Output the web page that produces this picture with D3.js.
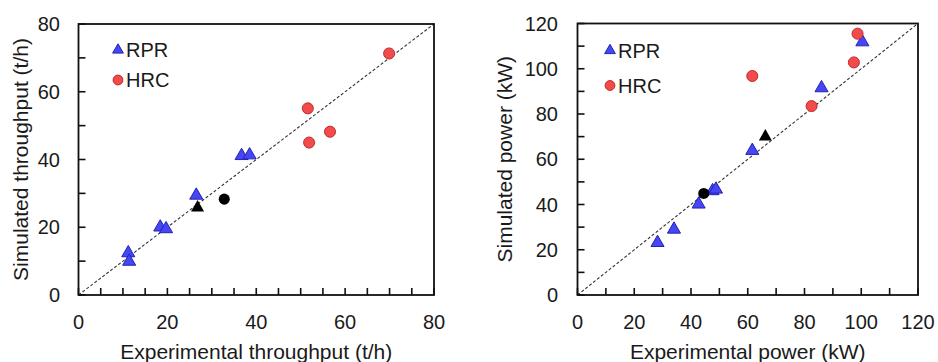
<!DOCTYPE html>
<html>
<head>
<meta charset="utf-8">
<script src="https://cdn.jsdelivr.net/npm/d3@7"></script>
<style>
  body { margin: 0; background: #fff; }
  text { font-family: "Liberation Sans", Arial, sans-serif; fill: #1a1a1a; }
</style>
</head>
<body>
<div id="plot"></div>
<script>
// throughput panel (t/h): [experimental, simulated]
const thrRPR = [[11.2, 12.4], [11.4, 9.9], [18.4, 20.0], [19.7, 19.5], [26.5, 29.4], [36.7, 41.1], [38.5, 41.3]];
const thrHRC = [[51.6, 55.1], [51.9, 45.0], [56.6, 48.2], [69.9, 71.3]];
const thrBlackTri = [[26.8, 25.8]];
const thrBlackCirc = [[32.8, 28.3]];

// power panel (kW)
const powRPR = [[28.2, 23.1], [34.0, 29.0], [42.7, 40.1], [47.6, 46.0], [48.8, 46.7], [61.6, 63.8], [86.0, 91.5], [100.4, 111.8]];
const powHRC = [[61.6, 96.8], [82.5, 83.5], [97.4, 102.8], [98.7, 115.5]];
const powBlackTri = [[66.2, 70.0]];
const powBlackCirc = [[44.5, 44.9]];

const seriesNames = ["RPR", "HRC"];

const svgWidth = 938;
const svgHeight = 362;

const svg = d3.select("div#plot")
  .append("svg")
  .attr("width", svgWidth)
  .attr("height", svgHeight);

const panels = [
  {
    x0: 78.5, x1: 434, y0: 295, y1: 24, max: 80, labelStep: 20, xMinor: 5, yMinor: 10,
    xTitle: "Experimental throughput (t/h)", yTitle: "Simulated throughput (t/h)",
    yTitleX: 28, yLabelGap: 18.5, legendX: 118, legendY: [50, 80],
    rpr: thrRPR, hrc: thrHRC, blackTri: thrBlackTri, blackCirc: thrBlackCirc
  },
  {
    x0: 577.5, x1: 918, y0: 295, y1: 23.5, max: 120, labelStep: 20, xMinor: 10, yMinor: 10,
    xTitle: "Experimental power (kW)", yTitle: "Simulated power (kW)",
    yTitleX: 512, yLabelGap: 19.5, legendX: 610, legendY: [50.5, 85.5],
    rpr: powRPR, hrc: powHRC, blackTri: powBlackTri, blackCirc: powBlackCirc
  }
];

const triBig = d3.symbol().type(d3.symbolTriangle).size(74);
const circBig = d3.symbol().type(d3.symbolCircle).size(96);
const triSmall = d3.symbol().type(d3.symbolTriangle).size(50);
const circSmall = d3.symbol().type(d3.symbolCircle).size(76);

const blueFill = "#4646f5", blueStroke = "#2323b4";
const redFill = "#f24b4b", redStroke = "#c22a2a";

panels.forEach((p) => {
  const x = d3.scaleLinear().domain([0, p.max]).range([p.x0, p.x1]);
  const y = d3.scaleLinear().domain([0, p.max]).range([p.y0, p.y1]);
  const g = svg.append("g");

  // tick labels
  const labels = d3.range(0, p.max + 0.1, p.labelStep);
  g.selectAll(".xl").data(labels).enter().append("text")
    .attr("x", (d) => x(d)).attr("y", p.y0 + 34)
    .attr("text-anchor", "middle").style("font-size", "20px").text((d) => d);
  g.selectAll(".yl").data(labels).enter().append("text")
    .attr("x", p.x0 - p.yLabelGap).attr("y", (d) => y(d) + 7)
    .attr("text-anchor", "end").style("font-size", "20px").text((d) => d);

  // diagonal 1:1 line
  g.append("line")
    .attr("x1", x(0)).attr("y1", y(0)).attr("x2", x(p.max)).attr("y2", y(p.max))
    .attr("stroke", "#333").attr("stroke-width", 1.1).attr("stroke-dasharray", "3,2");

  // frame
  g.append("rect")
    .attr("x", p.x0).attr("y", p.y1).attr("width", p.x1 - p.x0).attr("height", p.y0 - p.y1)
    .attr("fill", "none").attr("stroke", "#111").attr("stroke-width", 1.8);

  // inward minor ticks on bottom and left, as small rects
  const tickLen = 7;
  g.selectAll(".xt").data(d3.range(0, p.max + 0.1, p.xMinor)).enter().append("rect")
    .attr("x", (d) => x(d) - 0.8).attr("y", p.y0 - tickLen)
    .attr("width", 1.6).attr("height", tickLen)
    .attr("fill", "#111");
  g.selectAll(".yt").data(d3.range(0, p.max + 0.1, p.yMinor)).enter().append("rect")
    .attr("x", p.x0).attr("y", (d) => y(d) - 0.8)
    .attr("width", tickLen).attr("height", 1.6)
    .attr("fill", "#111");

  // points
  g.selectAll(".rpr").data(p.rpr).enter().append("path")
    .attr("d", triBig).attr("transform", (d) => `translate(${x(d[0])},${y(d[1])})`)
    .attr("fill", blueFill).attr("stroke", blueStroke).attr("stroke-width", 1);
  g.selectAll(".hrc").data(p.hrc).enter().append("path")
    .attr("d", circBig).attr("transform", (d) => `translate(${x(d[0])},${y(d[1])})`)
    .attr("fill", redFill).attr("stroke", redStroke).attr("stroke-width", 1);
  g.selectAll(".btri").data(p.blackTri).enter().append("path")
    .attr("d", triBig).attr("transform", (d) => `translate(${x(d[0])},${y(d[1])})`)
    .attr("fill", "#000");
  g.selectAll(".bcirc").data(p.blackCirc).enter().append("path")
    .attr("d", circBig).attr("transform", (d) => `translate(${x(d[0])},${y(d[1])})`)
    .attr("fill", "#000");

  // legend
  g.append("path").attr("d", triSmall)
    .attr("transform", `translate(${p.legendX},${p.legendY[0]})`)
    .attr("fill", blueFill).attr("stroke", blueStroke).attr("stroke-width", 1);
  g.append("path").attr("d", circSmall)
    .attr("transform", `translate(${p.legendX},${p.legendY[1]})`)
    .attr("fill", redFill).attr("stroke", redStroke).attr("stroke-width", 1);
  g.selectAll(".lg").data(seriesNames).enter().append("text")
    .attr("x", p.legendX + 8).attr("y", (d, i) => p.legendY[i] + 7)
    .style("font-size", "20px").text((d) => d);

  // axis titles
  g.append("text")
    .attr("x", (p.x0 + p.x1) / 2).attr("y", 359)
    .attr("text-anchor", "middle").style("font-size", "21px").text(p.xTitle);
  g.append("text")
    .attr("transform", `translate(${p.yTitleX},${(p.y0 + p.y1) / 2}) rotate(-90)`)
    .attr("text-anchor", "middle").style("font-size", "21px").text(p.yTitle);
});
</script>
</body>
</html>
